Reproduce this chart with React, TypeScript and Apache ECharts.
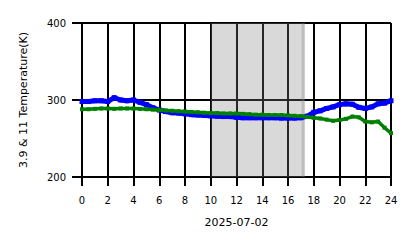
import React, { useEffect, useRef } from "react";
import * as echarts from "echarts";

const hours: number[] = [
  0, 0.5, 1, 1.5, 2, 2.5, 3, 3.5, 4, 4.5, 5, 5.5, 6, 6.5, 7, 7.5, 8, 8.5, 9, 9.5,
  10, 10.5, 11, 11.5, 12, 12.5, 13, 13.5, 14, 14.5, 15, 15.5, 16, 16.5, 17, 17.5,
  18, 18.5, 19, 19.5, 20, 20.5, 21, 21.5, 22, 22.5, 23, 23.5, 24,
];

const temp39: number[] = [
  298, 298, 299, 299, 298, 303, 300, 299, 300, 297, 294, 290, 287, 285, 283.5, 283,
  282, 281, 280.5, 280, 279.5, 279, 278.5, 278.5, 277.5, 277, 277, 277, 277, 277,
  277, 276.5, 276.5, 276.5, 277, 279, 284, 286, 289, 291, 294, 295, 294.5, 290.5,
  289, 291, 295, 296, 299,
];

const temp11: number[] = [
  288, 288, 288.5, 289, 289, 288.5, 289, 289, 289, 288.5, 288, 287.5, 287, 286.5,
  286, 285.5, 285, 284.5, 284, 283.5, 283, 283, 282.5, 282.5, 282.5, 282, 281.5,
  281, 281, 280.5, 280.5, 280.5, 280, 279.5, 279, 278, 277, 276, 274.5, 273, 274,
  275.5, 278.5, 277.5, 272, 271, 272, 264, 257,
];

const xTicks: number[] = [0, 2, 4, 6, 8, 10, 12, 14, 16, 18, 20, 22, 24];
const yTicks: number[] = [200, 300, 400];
const shadeSpans: [number, number][] = [
  [10, 17.3],
  [17.05, 17.3],
];
const dateLabel = "2025-07-02";
const yName = "3.9 & 11 Temperature(K)";

export default function App() {
  const ref = useRef<HTMLDivElement>(null);
  useEffect(() => {
    if (!ref.current) return;
    const chart = echarts.init(ref.current, undefined, { renderer: "svg" });
    const font = "DejaVu Sans";
    chart.setOption({
      animation: false,
      backgroundColor: "#ffffff",
      grid: { left: 82, right: 27, top: 23, bottom: 71 },
      xAxis: {
        type: "value",
        min: xTicks[0],
        max: xTicks[xTicks.length - 1],
        interval: 2,
        name: dateLabel,
        nameLocation: "middle",
        nameGap: 40,
        nameMoveOverlap: false,
        nameTextStyle: { fontFamily: font, fontSize: 11, color: "#000" },
        axisLine: { show: false },
        axisTick: { show: true, length: 9, lineStyle: { color: "#000", width: 2 } },
        axisLabel: { margin: 18, fontFamily: font, fontSize: 10, color: "#000" },
        splitLine: { show: true, lineStyle: { color: "#000", width: 2 } },
      },
      yAxis: {
        type: "value",
        min: yTicks[0],
        max: yTicks[yTicks.length - 1],
        interval: 100,
        name: yName,
        nameLocation: "middle",
        nameGap: 53,
        nameMoveOverlap: false,
        nameTextStyle: { fontFamily: font, fontSize: 11, color: "#000" },
        axisLine: { show: false },
        axisTick: { show: true, length: 10, lineStyle: { color: "#000", width: 2 } },
        axisLabel: { margin: 16, fontFamily: font, fontSize: 10, color: "#000" },
        splitLine: { show: true, lineStyle: { color: "#000", width: 2 } },
      },
      series: [
        {
          type: "line",
          data: hours.map((h, i) => [h, temp39[i]]),
          symbol: "rect",
          symbolSize: 5,
          lineStyle: { color: "#0000ff", width: 5 },
          itemStyle: { color: "#0000ff" },
          z: 3,
        },
        {
          type: "line",
          data: hours.map((h, i) => [h, temp11[i]]),
          symbol: "rect",
          symbolSize: 4,
          lineStyle: { color: "#008000", width: 3.5 },
          itemStyle: { color: "#008000" },
          z: 4,
        },
        {
          type: "line",
          data: [],
          z: 10,
          markArea: {
            silent: true,
            itemStyle: { color: "rgba(128,128,128,0.3)" },
            data: shadeSpans.map(([a, b]) => [{ xAxis: a }, { xAxis: b }]),
          },
        },
      ],
    });
    return () => chart.dispose();
  }, []);
  return <div ref={ref} style={{ width: 418, height: 248, margin: -8 }} />;
}
